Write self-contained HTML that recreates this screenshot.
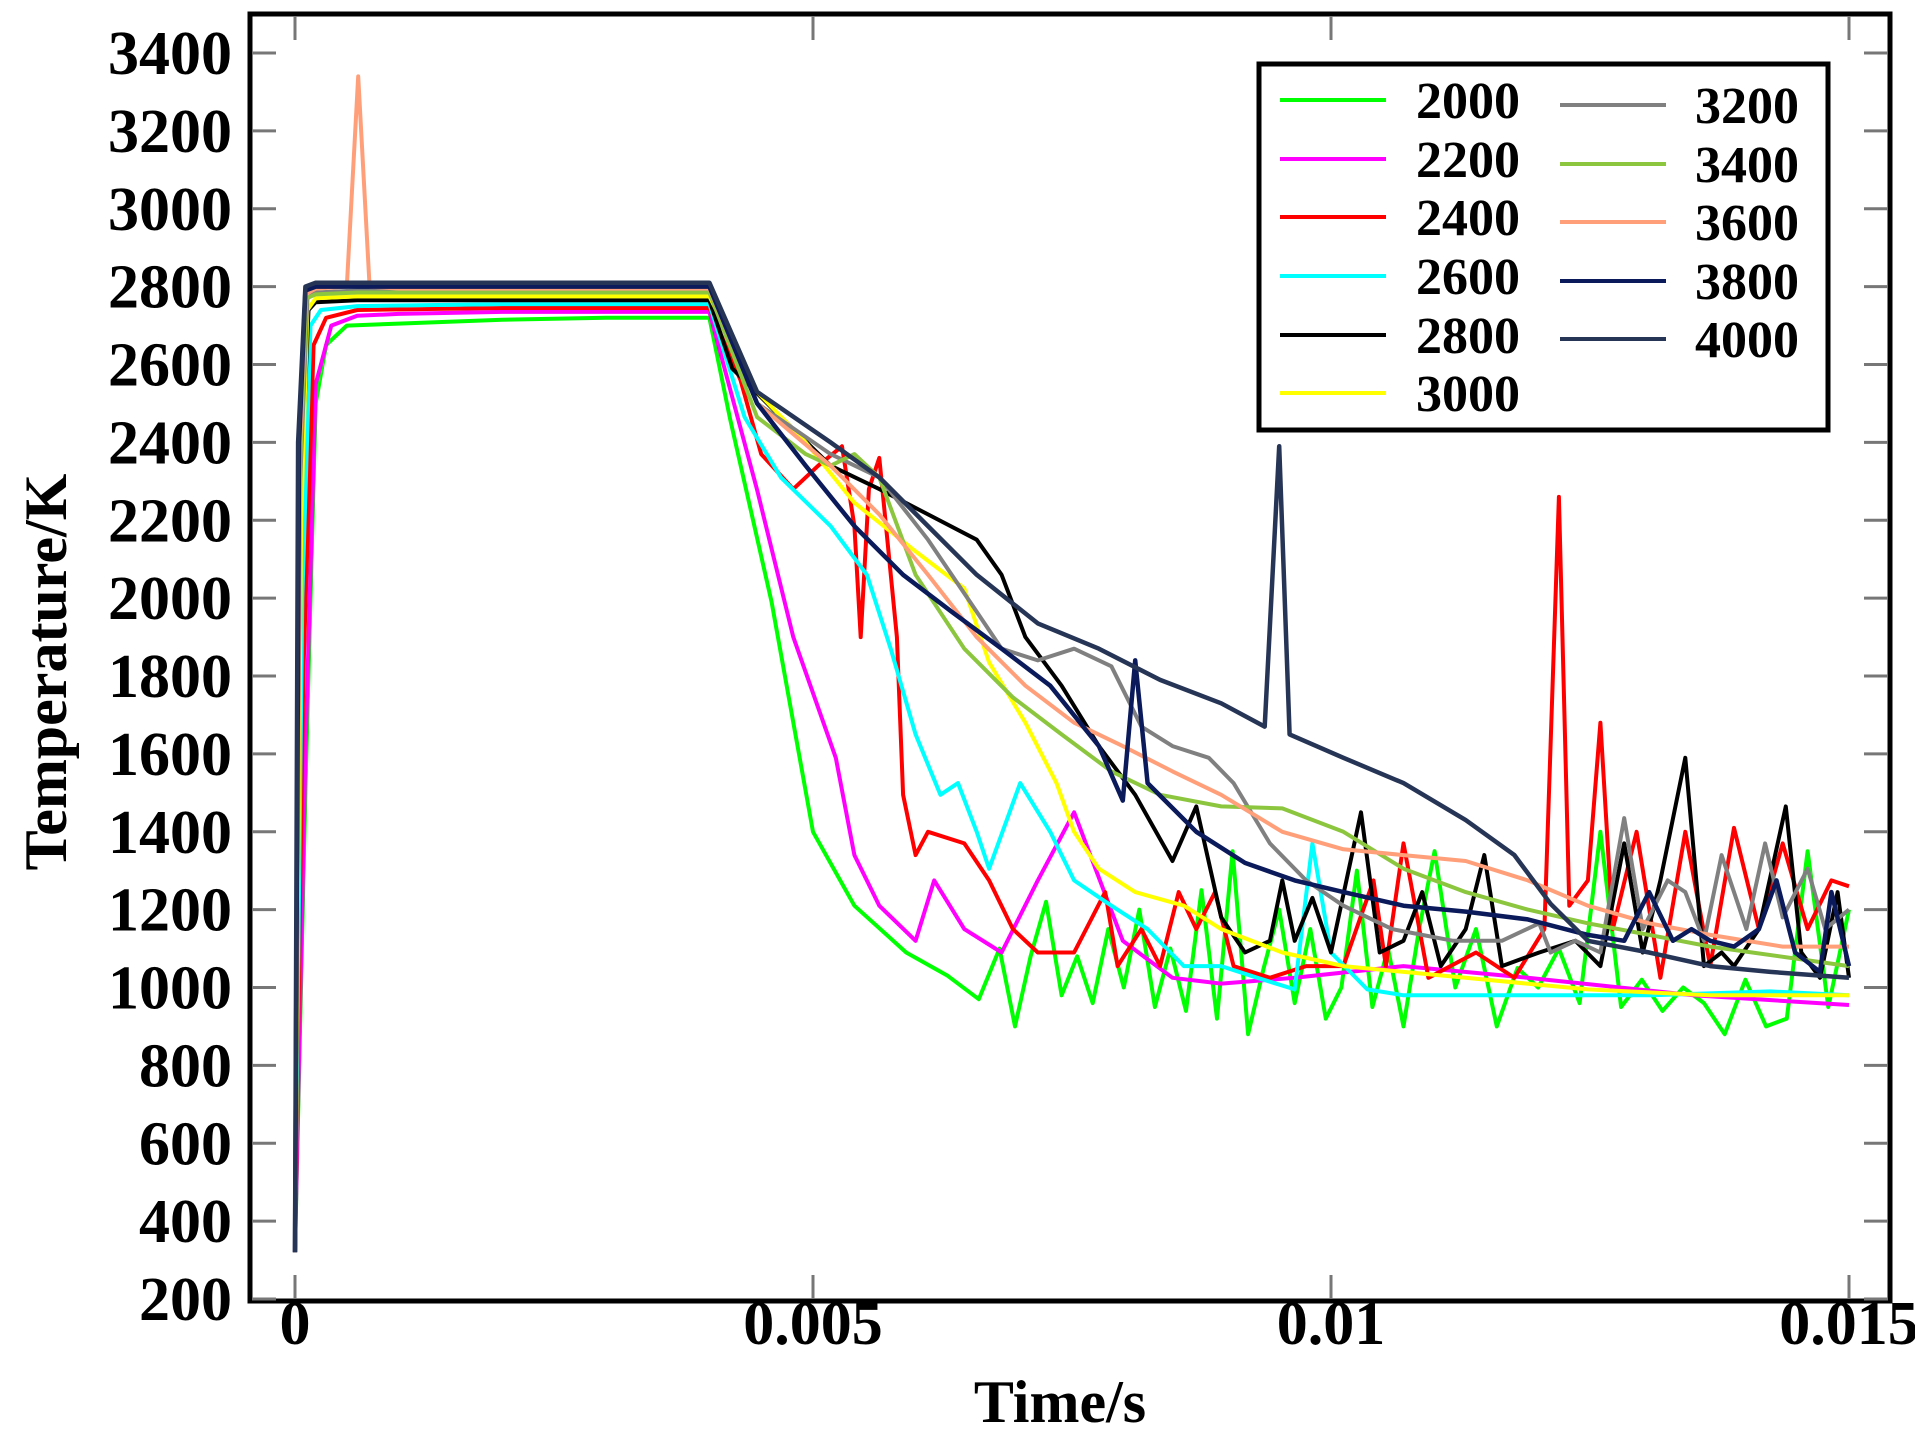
<!DOCTYPE html>
<html><head><meta charset="utf-8"><style>
html,body{margin:0;padding:0;background:#fff}
svg{display:block}
text{font-family:"Liberation Serif",serif;font-weight:bold;fill:#000}
</style></head><body>
<svg id="chart" width="1915" height="1449" viewBox="0 0 1915 1449">
<rect x="0" y="0" width="1915" height="1449" fill="#fff"/>
<g id="marks"></g>
<g id="axes"></g>
<g id="legend"></g>
</svg>
<script>
const names=["2000","2200","2400","2600","2800","3000","3200","3400","3600","3800","4000"];
const colors=["#00ff00","#ff00ff","#ff0000","#00ffff","#000000","#ffff00","#808080","#8cc63f","#ff9f7a","#0a1a5a","#263456"];
const yTicks=[200,400,600,800,1000,1200,1400,1600,1800,2000,2200,2400,2600,2800,3000,3200,3400];
const xTicks=[0,0.005,0.01,0.015];
const xTickLabels=["0","0.005","0.01","0.015"];
// times in ms, temps in K
const t2000=[0,0.1,0.2,0.3,0.5,1,2,3,4,4.2,4.6,5.0,5.4,5.9,6.3,6.6,6.8,6.95,7.1,7.25,7.4,7.55,7.7,7.85,8.0,8.15,8.3,8.45,8.6,8.75,8.9,9.05,9.2,9.35,9.5,9.65,9.8,9.95,10.1,10.25,10.4,10.55,10.7,10.85,11.0,11.2,11.4,11.6,11.8,12.0,12.2,12.4,12.6,12.8,13.0,13.2,13.4,13.6,13.8,14.0,14.2,14.4,14.6,14.8,15.0];
const v2000=[320,1500,2500,2650,2700,2705,2715,2720,2720,2460,1990,1400,1210,1090,1030,970,1100,900,1080,1220,980,1080,960,1150,1000,1200,950,1100,940,1250,920,1350,880,1050,1200,960,1150,920,1000,1300,950,1100,900,1150,1350,1000,1150,900,1050,1000,1100,960,1400,950,1020,940,1000,960,880,1020,900,920,1350,950,1200];
const t2200=[0,0.1,0.2,0.35,0.6,1,2,3,4,4.46,4.81,5.22,5.4,5.64,5.99,6.17,6.46,6.82,7.17,7.52,7.99,8.47,8.94,9.65,10.7,11.9,13.5,15];
const v2200=[320,1600,2550,2700,2725,2730,2735,2735,2735,2278,1900,1590,1340,1210,1120,1275,1150,1090,1275,1450,1120,1025,1010,1025,1055,1025,980,955];
const t2400=[0,0.08,0.18,0.3,0.6,2,4,4.3,4.5,4.81,5.05,5.28,5.4,5.46,5.54,5.64,5.81,5.87,5.99,6.11,6.46,6.7,6.93,7.17,7.52,7.82,7.94,8.17,8.35,8.53,8.7,8.88,9.06,9.41,9.76,10.12,10.41,10.53,10.7,10.94,11.4,11.77,12.06,12.2,12.3,12.48,12.6,12.72,12.95,13.18,13.42,13.66,13.89,14.13,14.36,14.6,14.83,15];
const v2400=[320,1800,2650,2720,2740,2745,2745,2560,2370,2280,2340,2390,2185,1900,2280,2360,1900,1495,1340,1400,1370,1275,1150,1090,1090,1245,1055,1150,1055,1245,1150,1245,1055,1025,1055,1055,1275,1055,1370,1025,1090,1025,1150,2260,1210,1275,1680,1150,1400,1025,1400,1055,1410,1150,1370,1150,1275,1260];
const t2600=[0,0.07,0.15,0.25,0.6,2,4,4.34,4.69,5.17,5.52,5.75,5.99,6.23,6.4,6.58,6.7,7,7.29,7.52,7.88,8.23,8.58,8.94,9.29,9.65,9.82,10,10.35,10.7,11.3,11.9,13.07,14.24,15];
const v2600=[320,2000,2700,2740,2750,2755,2755,2465,2310,2185,2060,1870,1650,1495,1525,1400,1305,1525,1400,1275,1210,1150,1055,1055,1025,995,1370,1090,995,980,980,980,980,990,980];
const t2800=[0,0.06,0.13,0.2,0.6,2,4,4.22,4.69,5.17,5.64,6.11,6.58,6.82,7.05,7.4,7.76,8.11,8.47,8.7,8.94,9.17,9.41,9.53,9.65,9.82,10,10.29,10.47,10.7,10.88,11.06,11.3,11.48,11.65,12.01,12.36,12.6,12.83,13.01,13.18,13.42,13.6,13.77,13.89,14.13,14.39,14.54,14.72,14.89,15];
const v2800=[320,2300,2740,2760,2765,2765,2765,2590,2465,2340,2280,2215,2150,2060,1900,1775,1620,1495,1325,1465,1180,1090,1120,1275,1120,1230,1090,1450,1090,1120,1245,1055,1150,1340,1055,1090,1120,1055,1370,1090,1275,1590,1055,1090,1055,1150,1465,1090,1025,1245,1025];
const t3000=[0,0.06,0.12,0.2,0.6,2,4,4.46,4.93,5.4,5.99,6.46,6.7,7.05,7.35,7.52,7.76,8.11,8.58,8.94,9.53,10.12,11.3,12.48,13.66,15];
const v3000=[320,2200,2740,2770,2775,2775,2775,2530,2400,2245,2120,2025,1835,1680,1525,1400,1305,1245,1210,1150,1090,1055,1025,995,980,980];
const t3200=[0,0.05,0.12,0.2,0.6,2,4,4.46,5.17,5.64,6.11,6.58,6.82,7.17,7.52,7.88,8.17,8.47,8.82,9.06,9.41,9.76,10.12,10.59,11.18,11.65,12.01,12.12,12.36,12.6,12.83,13.01,13.25,13.42,13.6,13.77,14.01,14.19,14.36,14.6,14.77,15];
const v3200=[320,2300,2770,2785,2790,2790,2790,2500,2370,2310,2150,1965,1870,1840,1870,1825,1670,1620,1590,1525,1370,1275,1210,1150,1120,1120,1165,1090,1120,1090,1435,1150,1275,1245,1120,1340,1150,1370,1180,1305,1150,1200];
const t3400=[0,0.05,0.11,0.2,0.6,2,4,4.46,4.93,5.17,5.4,5.64,5.99,6.46,6.93,7.4,7.88,8.35,8.94,9.53,10.12,10.7,11.3,11.9,12.48,13.07,13.66,15];
const v3400=[320,2350,2770,2780,2785,2785,2785,2465,2370,2340,2370,2310,2060,1870,1745,1650,1555,1495,1465,1460,1400,1305,1245,1200,1165,1135,1105,1055];
const t3600=[0,0.05,0.1,0.2,0.5,0.61,0.72,1,2,4,4.46,5.17,5.64,6.11,6.58,7.05,7.52,7.99,8.47,8.94,9.53,10.12,10.7,11.3,11.9,12.48,13.07,13.66,14.36,15];
const v3600=[320,2400,2780,2795,2800,3340,2800,2795,2795,2795,2500,2340,2215,2060,1900,1775,1680,1620,1555,1495,1400,1355,1340,1325,1275,1210,1165,1135,1105,1105];
const t3800=[0,0.04,0.1,0.2,0.6,2,4,4.46,4.93,5.4,5.87,6.34,6.82,7.29,7.76,7.99,8.11,8.23,8.7,9.17,9.65,10.12,10.7,11.3,11.9,12.48,12.83,13.07,13.3,13.48,13.66,13.89,14.13,14.3,14.48,14.72,14.83,15];
const v3800=[320,2400,2790,2800,2800,2800,2800,2500,2340,2185,2060,1965,1870,1775,1620,1480,1840,1525,1400,1320,1275,1245,1210,1195,1175,1135,1120,1245,1120,1150,1120,1105,1150,1275,1090,1040,1245,1055];
const t4000=[0,0.03,0.1,0.2,0.6,2,4,4.46,5.17,5.64,6.11,6.58,7.17,7.76,8.35,8.94,9.36,9.5,9.6,10.12,10.7,11.3,11.77,12.12,12.48,13.07,13.66,14.24,15];
const v4000=[320,2400,2800,2810,2810,2810,2810,2530,2400,2310,2185,2060,1935,1870,1790,1730,1670,2390,1650,1590,1525,1430,1340,1215,1120,1090,1055,1040,1025];
const times=[t2000,t2200,t2400,t2600,t2800,t3000,t3200,t3400,t3600,t3800,t4000];
const temps=[v2000,v2200,v2400,v2600,v2800,v3000,v3200,v3400,v3600,v3800,v4000];

const X0=295,X1=1849,Y200=1299,Y3400=53;
function xs(t){return X0+(t-0)/(0.015)*(X1-X0);}
function ys(v){return Y200+(v-200)/(3200)*(Y3400-Y200);}
const NS="http://www.w3.org/2000/svg";
function mk(tag,attrs,parent){const e=document.createElementNS(NS,tag);for(const k in attrs)e.setAttribute(k,attrs[k]);parent.appendChild(e);return e;}
const marks=document.getElementById('marks'),axes=document.getElementById('axes'),legend=document.getElementById('legend');
const defs=mk('defs',{},marks);
const cp=mk('clipPath',{id:'pc'},defs);
mk('rect',{x:252,y:16,width:1636,height:1284},cp);
marks.setAttribute('clip-path','url(#pc)');
for(let s=0;s<names.length;s++){
  const tt=times[s],vv=temps[s],n=Math.min(tt.length,vv.length);
  let d='';
  for(let i=0;i<n;i++){d+=(i?'L':'M')+xs(tt[i]/1000).toFixed(1)+','+ys(vv[i]).toFixed(1);}
  const p=mk('path',{d:d,fill:'none',stroke:colors[s],'stroke-width':(s>=9?4.5:4),'stroke-linejoin':'round'},marks);
  
  
}
const fr=mk('rect',{x:250,y:14,width:1640,height:1287,fill:'none',stroke:'#000','stroke-width':5},axes);


yTicks.forEach(v=>{
  const y=ys(v);
  mk('line',{x1:252,x2:276,y1:y,y2:y,stroke:'#777','stroke-width':3},axes);
  mk('line',{x1:1864,x2:1888,y1:y,y2:y,stroke:'#777','stroke-width':3},axes);
  const t=mk('text',{x:232,y:y+21,'font-size':62,'text-anchor':'end'},axes);
  t.textContent=v;
  
  
});
xTicks.forEach((v,i)=>{
  const x=xs(v);
  mk('line',{x1:x,x2:x,y1:16,y2:40,stroke:'#777','stroke-width':3},axes);
  mk('line',{x1:x,x2:x,y1:1275,y2:1299,stroke:'#777','stroke-width':3},axes);
  const t=mk('text',{x:x,y:1344,'font-size':62,'text-anchor':'middle'},axes);
  t.textContent=xTickLabels[i];
  
  
});
const xt=mk('text',{x:1060,y:1422,'font-size':60,'text-anchor':'middle'},axes);
xt.textContent='Time/s';


const yt=mk('text',{x:0,y:0,'font-size':60,'text-anchor':'middle',transform:'translate(66,672) rotate(-90)'},axes);
yt.textContent='Temperature/K';


const lb=mk('rect',{x:1259,y:64,width:569,height:366,fill:'#fff',stroke:'#000','stroke-width':5},legend);


const lrowsL=[100,159,217,276,335,393],lrowsR=[105,164,222,281,339];
names.forEach((nm,i)=>{
  const left=i<6, y=left?lrowsL[i]:lrowsR[i-6];
  const g=mk('g',{},legend);
  
  
  const lx=left?1280:1560;
  mk('line',{x1:lx,x2:lx+106,y1:y,y2:y,stroke:colors[i],'stroke-width':4},g);
  const t=mk('text',{x:left?1416:1695,y:y+18,'font-size':52},g);
  t.textContent=nm;
});
</script>
</body></html>
